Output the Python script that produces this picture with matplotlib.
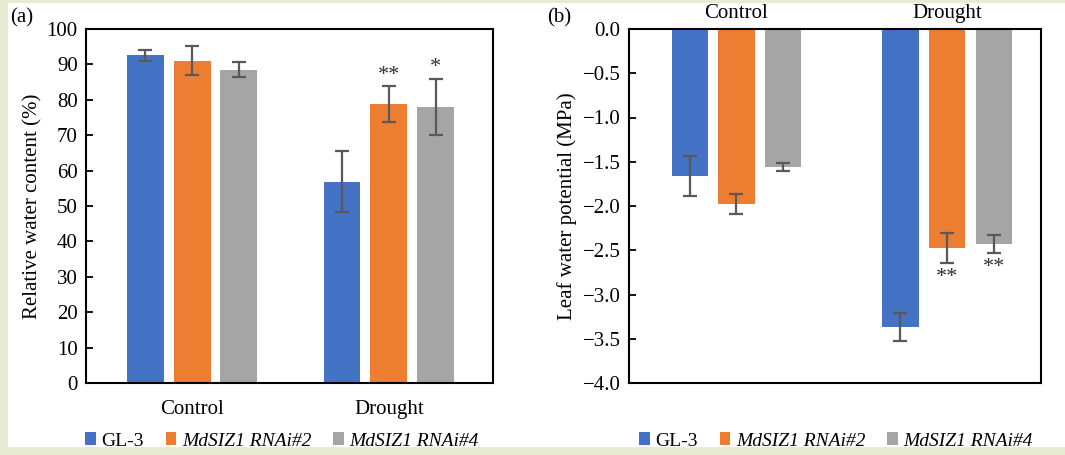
import matplotlib
matplotlib.use("Agg")
import matplotlib.pyplot as plt
from matplotlib.patches import Rectangle, Patch
import numpy as np

plt.rcParams['font.family'] = ['Liberation Serif', 'DejaVu Serif']

categories = ["Control", "Drought"]
genotypes = ["GL-3", "MdSIZ1 RNAi#2", "MdSIZ1 RNAi#4"]
colors = ["#4472C4", "#ED7D31", "#A5A5A5"]

# Panel (a): relative water content (%)
rwc_mean = {"GL-3": [92.6, 56.8], "MdSIZ1 RNAi#2": [91.1, 78.8], "MdSIZ1 RNAi#4": [88.5, 78.0]}
rwc_err = {"GL-3": [1.6, 8.6], "MdSIZ1 RNAi#2": [4.0, 5.0], "MdSIZ1 RNAi#4": [2.2, 8.0]}
rwc_sig = {"GL-3": ["", ""], "MdSIZ1 RNAi#2": ["", "**"], "MdSIZ1 RNAi#4": ["", "*"]}

# Panel (b): leaf water potential (MPa)
lwp_mean = {"GL-3": [-1.66, -3.37], "MdSIZ1 RNAi#2": [-1.98, -2.47], "MdSIZ1 RNAi#4": [-1.56, -2.43]}
lwp_err = {"GL-3": [0.23, 0.16], "MdSIZ1 RNAi#2": [0.11, 0.17], "MdSIZ1 RNAi#4": [0.05, 0.10]}
lwp_sig = {"GL-3": ["", ""], "MdSIZ1 RNAi#2": ["", "**"], "MdSIZ1 RNAi#4": ["", "**"]}

W, H = 1065, 455
fig = plt.figure(figsize=(W / 100, H / 100), dpi=100, facecolor="#E8ECD3")
bg = Rectangle((8 / W, (H - 447) / H), (W - 8) / W, (447 - 3) / H,
               transform=fig.transFigure, facecolor="white", edgecolor="none", zorder=-10)
fig.patches.append(bg)

def px_axes(x0, x1, y0, y1):
    a = fig.add_axes([x0 / W, (H - y1) / H, (x1 - x0) / W, (y1 - y0) / H])
    a.set_zorder(5)
    return a

ax1 = px_axes(86, 493, 29, 383)
ax2 = px_axes(629, 1041, 29, 383)

err_kw = dict(ecolor="#595959", elinewidth=1.6, capsize=5, capthick=1.6)
x = np.arange(len(categories))
FS = 15

# ---- panel (a)
bw, step = 0.188, 0.238
for i, g in enumerate(genotypes):
    xs = x + (i - 1) * step
    ax1.bar(xs, rwc_mean[g], bw, color=colors[i], yerr=rwc_err[g], error_kw=err_kw, zorder=2)
    for xi, m, e, s in zip(xs, rwc_mean[g], rwc_err[g], rwc_sig[g]):
        if s:
            ax1.text(xi, m + e + 0.3, s, ha="center", va="bottom", fontsize=FS + 1, color="#333333")
ax1.set_xlim(-0.54, 1.53)
ax1.set_ylim(0, 100)
ax1.set_yticks(np.arange(0, 101, 10))
ax1.set_xticks(x)
ax1.set_xticklabels(categories, fontsize=FS)
ax1.tick_params(axis="x", length=0, pad=12)
ax1.tick_params(axis="y", direction="in", length=5, width=1.3, labelsize=FS, pad=6)
ax1.set_ylabel("Relative water content (%)", fontsize=FS, labelpad=3)
for sp in ax1.spines.values():
    sp.set_linewidth(1.5)

# ---- panel (b)
bw2, step2 = 0.172, 0.222
for i, g in enumerate(genotypes):
    xs = x + (i - 1) * step2
    ax2.bar(xs, lwp_mean[g], bw2, color=colors[i], yerr=lwp_err[g], error_kw=err_kw, zorder=2)
    for xi, m, e, s in zip(xs, lwp_mean[g], lwp_err[g], lwp_sig[g]):
        if s:
            ax2.text(xi, m - e - 0.17, s, ha="center", va="center", fontsize=FS + 1, color="#333333")
ax2.set_xlim(-0.51, 1.445)
ax2.set_ylim(-4.0, 0.0)
yt = np.arange(-4.0, 0.01, 0.5)
ax2.set_yticks(yt)
ax2.set_yticklabels([("%.1f" % v).replace("-", "\u2212") if v < -0.01 else "0.0" for v in yt])
ax2.xaxis.set_ticks_position("top")
ax2.set_xticks(x)
ax2.set_xticklabels(categories, fontsize=FS)
ax2.tick_params(axis="x", length=0, pad=4)
ax2.tick_params(axis="y", direction="in", length=5, width=1.3, labelsize=FS, pad=6)
ax2.set_ylabel("Leaf water potential (MPa)", fontsize=FS, labelpad=4)
for sp in ax2.spines.values():
    sp.set_linewidth(1.5)

# panel labels
fig.text(10 / W, (H - 18) / H, "(a)", fontsize=FS, va="center", ha="left")
fig.text(547 / W, (H - 18) / H, "(b)", fontsize=FS, va="center", ha="left")

# legends
handles = [Patch(facecolor=c, edgecolor="none") for c in colors]
labels = ["GL-3", "MdSIZ1 RNAi#2", "MdSIZ1 RNAi#4"]
for cx in (282, 836):
    leg = fig.legend(handles, labels, loc="center", bbox_to_anchor=(cx / W, (H - 441) / H),
                     ncol=3, frameon=False, fontsize=14, handlelength=0.55, handleheight=0.6,
                     handletextpad=0.3, columnspacing=1.1, borderpad=0)
    leg.set_zorder(6)
    for t in leg.get_texts()[1:]:
        t.set_fontstyle("italic")

fig.savefig("out.png", dpi=100, facecolor=fig.get_facecolor())
